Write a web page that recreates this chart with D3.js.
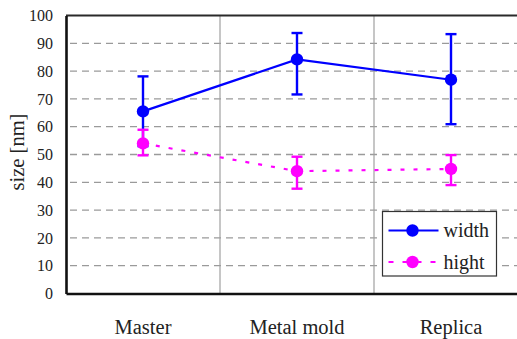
<!DOCTYPE html>
<html>
<head>
<meta charset="utf-8">
<script src="https://cdn.jsdelivr.net/npm/d3@7"></script>
<style>
	html, body { margin: 0; padding: 0; background: #fff; overflow: hidden; }
	svg { display: block; font-family: "Liberation Serif", "Times New Roman", serif; }
</style>
</head>
<body>
<svg id="chart" width="517" height="339"></svg>
<script>
const categories = ['Master', 'Metal mold', 'Replica'];
const widthValues = [65.5, 84.2, 76.9];
const widthLow = [53.0, 71.6, 60.9];
const widthHigh = [78.1, 93.7, 93.3];
const hightValues = [54.0, 44.0, 44.8];
const hightLow = [49.7, 37.7, 39.0];
const hightHigh = [58.9, 49.2, 49.8];
const yTicks = [0, 10, 20, 30, 40, 50, 60, 70, 80, 90, 100];

const margin = { left: 66, top: 15.5, bottom: 45.5 };
const plotRight = 528;
const height = 339;

const svg = d3.select('#chart');

const x = d3.scaleBand().domain(categories).range([margin.left, plotRight]).padding(0);
const y = d3.scaleLinear().domain([0, 100]).range([height - margin.bottom, margin.top]);

// dashed horizontal grid
svg.append('g')
	.selectAll('line')
	.data(yTicks.filter((d) => d > 0 && d < 100))
	.enter().append('line')
	.attr('x1', margin.left + 4)
	.attr('x2', plotRight)
	.attr('y1', (d) => y(d))
	.attr('y2', (d) => y(d))
	.attr('stroke', '#9a9a9a')
	.attr('stroke-width', 1.3)
	.attr('stroke-dasharray', '7,5');

// category separators
svg.append('g')
	.selectAll('line')
	.data(categories.slice(1))
	.enter().append('line')
	.attr('x1', (d) => x(d))
	.attr('x2', (d) => x(d))
	.attr('y1', y(100))
	.attr('y2', y(0))
	.attr('stroke', '#a0a0a0')
	.attr('stroke-width', 1.2);

// frame
svg.append('line')
	.attr('x1', margin.left).attr('x2', plotRight)
	.attr('y1', y(100)).attr('y2', y(100))
	.attr('stroke', '#2a2a2a').attr('stroke-width', 2.2);

// y axis
const yAxis = svg.append('g')
	.attr('transform', 'translate(' + margin.left + ',0)')
	.call(d3.axisLeft(y).tickValues(yTicks).tickSize(0).tickPadding(13));
yAxis.select('.domain').attr('stroke', '#111').attr('stroke-width', 2.6);
yAxis.selectAll('text')
	.attr('font-size', 16)
	.attr('font-family', '"Liberation Serif", serif')
	.attr('fill', '#222');

// x axis
const xAxis = svg.append('g')
	.attr('transform', 'translate(0,' + y(0) + ')')
	.call(d3.axisBottom(x).tickSize(0).tickPadding(26));
xAxis.select('.domain').attr('stroke', '#111').attr('stroke-width', 2.6);
xAxis.selectAll('text')
	.attr('font-size', 20.5)
	.attr('font-family', '"Liberation Serif", serif')
	.attr('fill', '#222');

// y title
svg.append('text')
	.attr('transform', 'translate(24,' + 152 + ') rotate(-90)')
	.attr('text-anchor', 'middle')
	.attr('font-size', 20.5)
	.attr('fill', '#222')
	.text('size [nm]');

function drawSeries(values, low, high, color, dash) {
	const g = svg.append('g');
	const cx = (i) => x(categories[i]) + x.bandwidth() / 2;
	const line = d3.line()
		.x((d, i) => cx(i))
		.y((d) => y(d));
	g.append('path')
		.datum(values)
		.attr('fill', 'none')
		.attr('stroke', color)
		.attr('stroke-width', 2.2)
		.attr('stroke-dasharray', dash)
		.attr('d', line);
	values.forEach((v, i) => {
		g.append('line')
			.attr('x1', cx(i)).attr('x2', cx(i))
			.attr('y1', y(low[i])).attr('y2', y(high[i]))
			.attr('stroke', color).attr('stroke-width', 2.4);
		[low[i], high[i]].forEach((e) => {
			g.append('line')
				.attr('x1', cx(i) - 5.5).attr('x2', cx(i) + 5.5)
				.attr('y1', y(e)).attr('y2', y(e))
				.attr('stroke', color).attr('stroke-width', 2.4);
		});
		g.append('circle')
			.attr('cx', cx(i)).attr('cy', y(v))
			.attr('r', 6.2)
			.attr('fill', color);
	});
}

drawSeries(widthValues, widthLow, widthHigh, '#0000ff', null);
drawSeries(hightValues, hightLow, hightHigh, '#ff00ff', '4,9');

// legend
const legend = svg.append('g').attr('transform', 'translate(382.5,211.5)');
legend.append('rect')
	.attr('width', 114).attr('height', 64.5)
	.attr('fill', '#fff')
	.attr('stroke', '#333').attr('stroke-width', 1.2);
const items = [
	{ label: 'width', color: '#0000ff', dash: null },
	{ label: 'hight', color: '#ff00ff', dash: '5,9' }
];
items.forEach((it, i) => {
	const ly = 19 + i * 31.5;
	legend.append('line')
		.attr('x1', 6).attr('x2', 56)
		.attr('y1', ly).attr('y2', ly)
		.attr('stroke', it.color).attr('stroke-width', 2.2)
		.attr('stroke-dasharray', it.dash);
	legend.append('circle')
		.attr('cx', 30).attr('cy', ly).attr('r', 6.2)
		.attr('fill', it.color);
	legend.append('text')
		.attr('x', 61).attr('y', ly + 6.5)
		.attr('font-size', 20)
		.attr('fill', '#222')
		.text(it.label);
});
</script>
</body>
</html>
